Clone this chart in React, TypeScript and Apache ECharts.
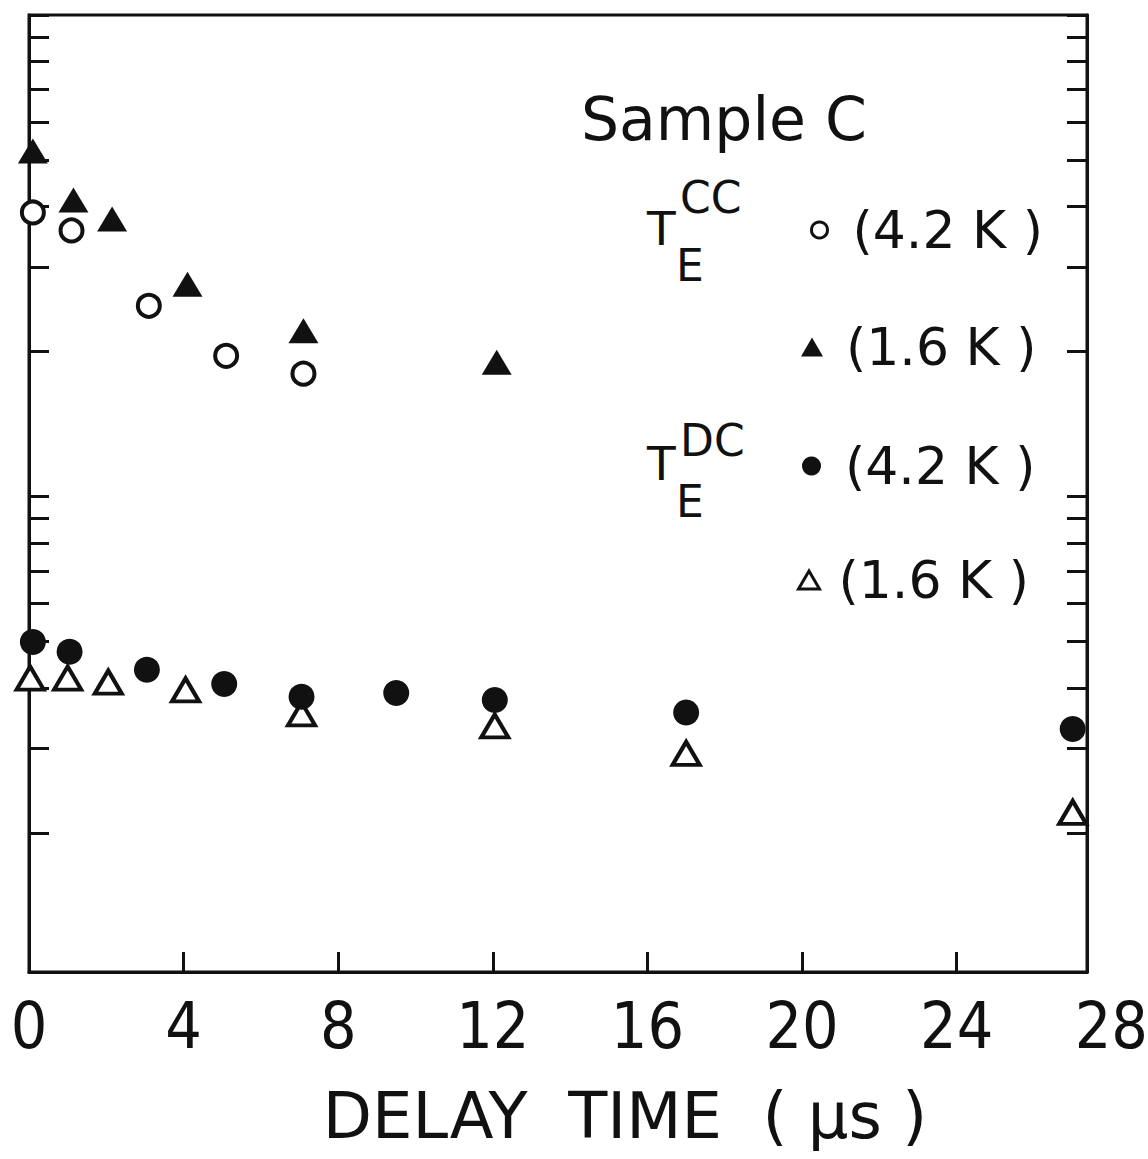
import React, { useEffect, useRef } from 'react';
import * as echarts from 'echarts';

// Delay time (µs) and T_E values (log y axis, 1..100)
const ccHotX = [0.1, 1.1, 3.1, 5.1, 7.1];
const ccHotY = [38.9, 35.7, 24.9, 19.6, 18.0];
const ccColdX = [0.1, 1.15, 2.15, 4.1, 7.1, 12.1];
const ccColdY = [52.2, 41.3, 37.7, 27.6, 22.1, 19.0];
const dcHotX = [0.1, 1.05, 3.05, 5.05, 7.05, 9.5, 12.05, 17.0, 27.0];
const dcHotY = [4.99, 4.76, 4.37, 4.08, 3.84, 3.91, 3.78, 3.56, 3.29];
const dcColdX = [0.03, 1.0, 2.05, 4.05, 7.05, 12.05, 17.0, 27.0];
const dcColdY = [4.2, 4.2, 4.12, 3.97, 3.54, 3.34, 2.93, 2.21];

const xTickValues = [4, 8, 12, 16, 20, 24];
const xLabelValues = [0, 4, 8, 12, 16, 20, 24];
const xOuterLabel = 28;
const yTickValues = [2, 3, 4, 5, 6, 7, 8, 9, 10, 20, 30, 40, 50, 60, 70, 80, 90, 100];

const seriesNames = ['CC 4.2 K', 'CC 1.6 K', 'DC 4.2 K', 'DC 1.6 K'];
const legendTexts = ['(4.2 K )', '(1.6 K )', '(4.2 K )', '(1.6 K )'];

const INK = '#111';
const LABEL_FONT = "'Liberation Sans Narrow', 'DejaVu Sans Condensed', 'Liberation Sans', sans-serif";
const TEXT_FONT = "'DejaVu Sans', sans-serif";

const zip = (xs: number[], ys: number[]) => xs.map((x, i) => [x, ys[i]]);

export default function App() {
  const ref = useRef<HTMLDivElement>(null);
  useEffect(() => {
    if (!ref.current) return;
    const chart = echarts.init(ref.current, null, { renderer: 'svg' });
    const yAxisBase = {
      type: 'log' as const,
      logBase: 10,
      min: 1.03,
      max: 100,
      axisLine: { show: true, lineStyle: { color: INK, width: 3 } },
      axisTick: { show: true, inside: true, length: 20, lineStyle: { color: INK, width: 3 }, customValues: yTickValues },
      axisLabel: { show: false },
      splitLine: { show: false },
      minorTick: { show: false },
    };
    const legendCommon = {
      orient: 'horizontal' as const,
      padding: 0,
      selectedMode: false,
      textStyle: { fontFamily: TEXT_FONT, fontSize: 52, color: INK },
      formatter: (name: string) => legendTexts[seriesNames.indexOf(name)],
    };
    const option: any = {
      animation: false,
      backgroundColor: '#fff',
      grid: { left: 29, right: 61, top: 15, bottom: 187, show: true, borderColor: INK, borderWidth: 3 },
      xAxis: {
        type: 'value',
        min: 0,
        max: 27.37,
        interval: 4,
        name: 'DELAY  TIME  ( μs )',
        nameLocation: 'middle',
        nameGap: 112,
        nameTextStyle: { fontFamily: TEXT_FONT, fontSize: 64, color: INK, padding: [0, 0, 0, 134] },
        axisLine: { show: true, lineStyle: { color: INK, width: 3 } },
        axisTick: { show: true, inside: true, length: 20, lineStyle: { color: INK, width: 3 }, customValues: xTickValues },
        axisLabel: { show: true, margin: 22, fontFamily: LABEL_FONT, fontSize: 64, color: INK, customValues: xLabelValues },
        splitLine: { show: false },
      },
      yAxis: [
        { ...yAxisBase, position: 'left' },
        { ...yAxisBase, position: 'right' },
      ],
      legend: [
        { ...legendCommon, data: [{ name: seriesNames[0], icon: 'circle' }], left: 810, top: 204, itemWidth: 16, itemHeight: 16,
          itemStyle: { color: '#fff', borderColor: INK, borderWidth: 3 }, textStyle: { ...legendCommon.textStyle, padding: [0, 0, 0, 20] } },
        { ...legendCommon, data: [{ name: seriesNames[1], icon: 'triangle' }], left: 801, top: 321, itemWidth: 22, itemHeight: 19,
          itemStyle: { color: INK, borderWidth: 0 }, textStyle: { ...legendCommon.textStyle, padding: [0, 0, 0, 18] } },
        { ...legendCommon, data: [{ name: seriesNames[2], icon: 'circle' }], left: 802, top: 440, itemWidth: 19, itemHeight: 19,
          itemStyle: { color: INK, borderWidth: 0 }, textStyle: { ...legendCommon.textStyle, padding: [0, 0, 0, 19] } },
        { ...legendCommon, data: [{ name: seriesNames[3], icon: 'triangle' }], left: 797, top: 554, itemWidth: 21, itemHeight: 18,
          itemStyle: { color: '#fff', borderColor: INK, borderWidth: 3 }, textStyle: { ...legendCommon.textStyle, padding: [0, 0, 0, 14] } },
      ],
      series: [
        { name: seriesNames[1], type: 'scatter', data: zip(ccColdX, ccColdY), symbol: 'triangle', symbolSize: [30, 25],
          itemStyle: { color: INK, opacity: 1 }, z: 3 },
        { name: seriesNames[0], type: 'scatter', data: zip(ccHotX, ccHotY), symbol: 'circle', symbolSize: 22,
          itemStyle: { color: '#fff', borderColor: INK, borderWidth: 4, opacity: 1 }, z: 4 },
        { name: seriesNames[3], type: 'scatter', data: zip(dcColdX, dcColdY), symbol: 'triangle', symbolSize: [27, 23],
          itemStyle: { color: '#fff', borderColor: INK, borderWidth: 4, opacity: 1 }, z: 3 },
        { name: seriesNames[2], type: 'scatter', data: zip(dcHotX, dcHotY), symbol: 'circle', symbolSize: 26,
          itemStyle: { color: INK, opacity: 1 }, z: 4 },
      ],
    };
    chart.setOption(option);

    const px28 = chart.convertToPixel({ xAxisIndex: 0 }, xOuterLabel) as number;
    const yBottom = chart.convertToPixel({ yAxisIndex: 0 }, 1.03) as number;
    const textStyle = (text: string, size: number) => ({ text, fontFamily: TEXT_FONT, fontSize: size, fill: INK, align: 'left', verticalAlign: 'middle' });
    chart.setOption({
      graphic: [
        { type: 'text', x: px28, y: yBottom + 22, style: { text: String(xOuterLabel), fontFamily: LABEL_FONT, fontSize: 64, fill: INK, align: 'center', verticalAlign: 'top' } },
        { type: 'text', x: 581, y: 119, style: textStyle('Sample C', 60) },
        { type: 'text', x: 647, y: 228, style: textStyle('T', 47) },
        { type: 'text', x: 680, y: 197, style: textStyle('CC', 44) },
        { type: 'text', x: 676, y: 265, style: textStyle('E', 44) },
        { type: 'text', x: 647, y: 463, style: textStyle('T', 47) },
        { type: 'text', x: 680, y: 440, style: textStyle('DC', 44) },
        { type: 'text', x: 676, y: 501, style: textStyle('E', 44) },
      ],
    });
    return () => chart.dispose();
  }, []);
  return <div ref={ref} style={{ position: 'fixed', left: 0, top: 0, width: 1148, height: 1159, background: '#fff' }} />;
}
